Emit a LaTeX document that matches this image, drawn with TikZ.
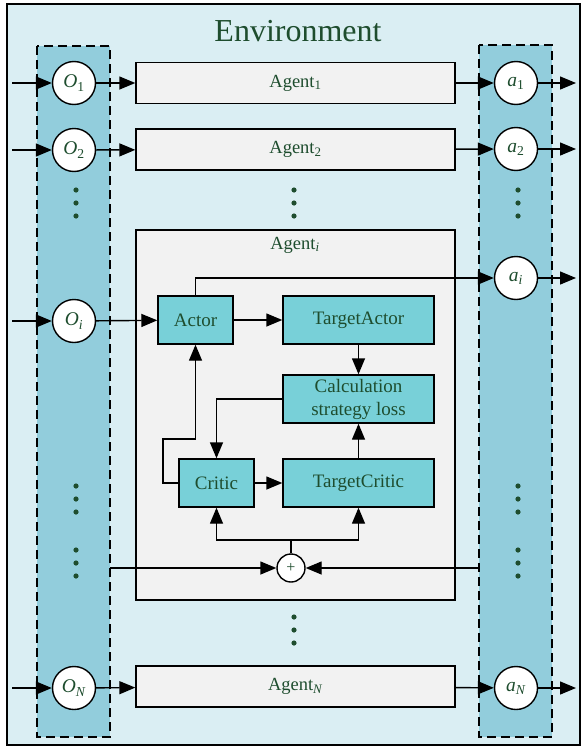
\documentclass[tikz,border=0pt]{standalone}
\usepackage{fontspec}
\setmainfont{Liberation Serif}
\usetikzlibrary{arrows.meta}
\definecolor{envbg}{HTML}{DAEEF3}
\definecolor{colbg}{HTML}{92CDDC}
\definecolor{agbg}{HTML}{F2F2F2}
\definecolor{netbg}{HTML}{78D0D8}
\definecolor{txt}{HTML}{1E4D2E}
\newcommand\mysub[1]{\textsubscript{#1}}
\begin{document}
\begin{tikzpicture}[x=1pt,y=-1pt, line width=1.4pt,
  >={Triangle[length=16pt,width=13pt]},
  agentbox/.style={draw, fill=agbg, minimum width=319pt, minimum height=41pt, text=txt, font=\fontsize{18.5}{22}\selectfont, inner sep=0pt},
  netbox/.style={draw, fill=netbg, minimum height=48pt, text=txt, font=\fontsize{19}{23}\selectfont, align=center, inner sep=0pt},
  io/.style={draw, fill=white, circle, minimum size=43pt, inner sep=0pt, text=txt, font=\fontsize{19.5}{22}\selectfont},
  column/.style={draw, dash pattern=on 9pt off 5pt, fill=colbg},
  dotmark/.style={fill=txt}
]
\useasboundingbox (0,0) rectangle (586,747);
% environment frame
\draw[fill=envbg] (7,4) rectangle (580,745);
\node[text=txt, font=\fontsize{32}{36}\selectfont] (env) at (298,31) {Environment};
% columns
\draw[column] (37,46) rectangle (110,737);
\draw[column] (479,45) rectangle (552,737);

% agent boxes
\node[agentbox] (ag1) at (295.5,83) {Agent\mysub{1}};
\node[agentbox] (ag2) at (295.5,149.5) {Agent\mysub{2}};
\node[agentbox] (agN) at (295.5,686.5) {Agent\mysub{\textit{N}}};
\node[draw, fill=agbg, minimum width=319pt, minimum height=370pt, inner sep=0pt] (agi) at (295.5,415) {};
\node[text=txt, font=\fontsize{18.5}{22}\selectfont] (agilabel) at (295,245) {Agent\mysub{\textit{i}}};

% observation circles
\node[io] (o1) at (74,83) {\textit{O}\mysub{1}};
\node[io] (o2) at (74,150) {\textit{O}\mysub{2}};
\node[io] (oi) at (74,321) {\textit{O}\mysub{\textit{i}}};
\node[io] (oN) at (74,688) {\textit{O}\mysub{\textit{N}}};
% action circles
\node[io] (a1) at (516,83) {\textit{a}\mysub{1}};
\node[io] (a2) at (516,149) {\textit{a}\mysub{2}};
\node[io] (ai) at (516,278) {\textit{a}\mysub{\textit{i}}};
\node[io] (aN) at (516,688) {\textit{a}\mysub{\textit{N}}};

% networks
\node[netbox, minimum width=75pt] (actor) at (195.5,320) {Actor};
\node[netbox, minimum width=151pt] (tactor) at (358.5,320) {TargetActor};
\node[netbox, minimum width=151pt] (calc) at (358.5,399) {Calculation\\strategy loss};
\node[netbox, minimum width=75pt] (critic) at (216.5,483) {Critic};
\node[netbox, minimum width=151pt] (tcritic) at (358.5,483) {TargetCritic};
\node[draw, fill=white, circle, minimum size=28pt, inner sep=0pt, text=txt, font=\fontsize{16}{18}\selectfont] (plus) at (291,568) {+};

% free ends
\coordinate (in1) at (12,83);
\coordinate (in2) at (12,150);
\coordinate (ini) at (12,321);
\coordinate (inN) at (12,688);
\coordinate (out1) at (576,83);
\coordinate (out2) at (576,149);
\coordinate (outi) at (576,278);
\coordinate (outN) at (576,688);
\coordinate (k1) at (163,439);
\coordinate (pj) at (291,540);
\coordinate (lc) at (110,568);
\coordinate (rc) at (479,568);

% arrows
\draw[->] (in1) -- (o1);
\draw[->] (in2) -- (o2);
\draw[->] (ini) -- (oi);
\draw[->] (inN) -- (oN);
\draw[->] (o1) -- (ag1);
\draw[->] (o2) -- (ag2);
\draw[->] (oN) -- (agN);
\draw[->] (oi) -- (actor);
\draw[->] (ag1) -- (a1);
\draw[->] (ag2) -- (a2);
\draw[->] (agN) -- (aN);
\draw[->] (a1) -- (out1);
\draw[->] (a2) -- (out2);
\draw[->] (ai) -- (outi);
\draw[->] (aN) -- (outN);
\draw[->] (actor.north) |- (ai.west);
\draw[->] (actor) -- (tactor);
\draw[->] (tactor) -- (calc);
\draw[->] (calc.west) -| (critic.north);
\draw[->] (critic.west) -| (k1) -| (actor.south);
\draw[->] (critic) -- (tcritic);
\draw[->] (tcritic) -- (calc);
\draw (plus.north) -- (pj);
\draw[->] (pj) -| (critic.south);
\draw[->] (pj) -| (tcritic.south);
\draw[->] (lc) -- (plus.west);
\draw[->] (rc) -- (plus.east);

% dots
\foreach \y in {190,203,216} {
  \fill[dotmark] (76,\y) circle (2.6pt);
  \fill[dotmark] (294,\y) circle (2.6pt);
  \fill[dotmark] (518,\y) circle (2.6pt);
}
\foreach \y in {486,499,512,550,563,576} {
  \fill[dotmark] (76,\y) circle (2.6pt);
  \fill[dotmark] (518,\y) circle (2.6pt);
}
\foreach \y in {617,630,643} {
  \fill[dotmark] (294,\y) circle (2.6pt);
}
\end{tikzpicture}
\end{document}
